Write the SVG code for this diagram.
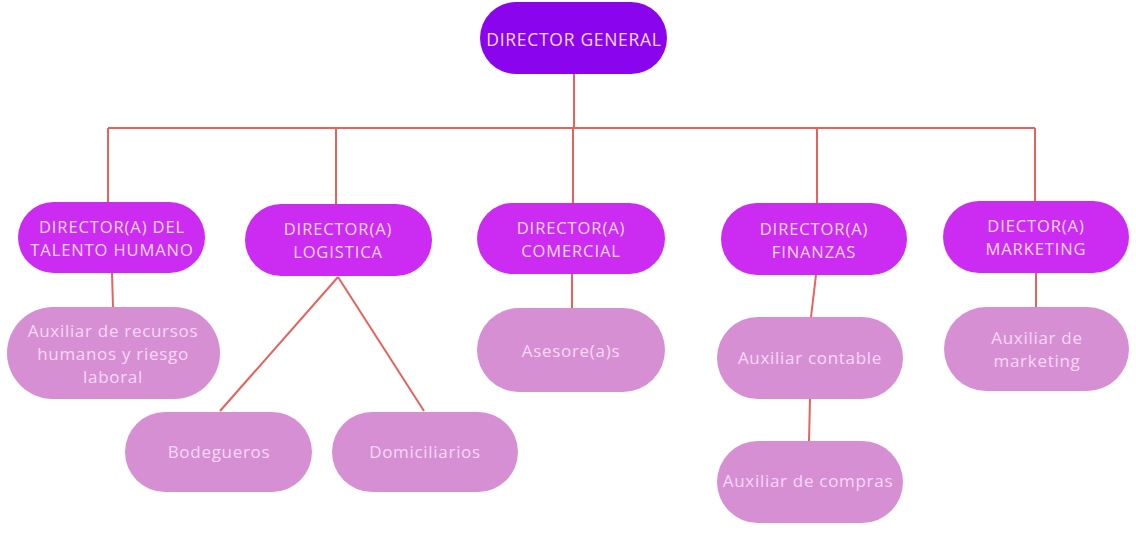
<svg xmlns="http://www.w3.org/2000/svg" width="1136" height="557" viewBox="0 0 1136 557">
<style>
.l1{fill:#8a05ee}
.l2{fill:#cc2cf2}
.l3{fill:#d78fd4}
text{font-family:"Open Sans","Liberation Sans",sans-serif;fill:#f8d8f6;text-anchor:middle;dominant-baseline:central}
.t1{font-size:17.5px;letter-spacing:0.7px}
.t2{font-size:16.5px;letter-spacing:0.9px}
.t3{font-size:17px;letter-spacing:0.7px}
#connectors line{stroke:#e8625c;stroke-width:2;fill:none}
</style>
<rect width="1136" height="557" fill="#ffffff"/>
<g id="connectors">
<line x1="574" y1="74" x2="574" y2="128"/>
<line x1="108" y1="128" x2="1035" y2="128"/>
<line x1="108" y1="128" x2="108" y2="202"/>
<line x1="336" y1="128" x2="336" y2="204"/>
<line x1="573" y1="128" x2="573" y2="203"/>
<line x1="817" y1="128" x2="817" y2="203"/>
<line x1="1035" y1="128" x2="1035" y2="201"/>
<line x1="112" y1="273" x2="113" y2="307"/>
<line x1="338" y1="277" x2="220" y2="411"/>
<line x1="338" y1="277" x2="424" y2="411"/>
<line x1="572" y1="274" x2="572" y2="308"/>
<line x1="816" y1="275" x2="811" y2="317"/>
<line x1="810" y1="399" x2="809" y2="441"/>
<line x1="1036" y1="273" x2="1036" y2="307"/>
</g>
<g id="director-general">
<rect class="l1" x="480" y="2" width="187" height="72" rx="36"/>
<text class="t1" x="574" y="39">DIRECTOR GENERAL</text>
</g>
<g id="talento-humano">
<rect class="l2" x="18" y="202" width="187" height="71" rx="35.5"/>
<text class="t2" x="112" y="226">DIRECTOR(A) DEL</text>
<text class="t2" x="112" y="249">TALENTO HUMANO</text>
</g>
<g id="logistica">
<rect class="l2" x="245" y="204" width="187" height="72" rx="36"/>
<text class="t2" x="338" y="228">DIRECTOR(A)</text>
<text class="t2" x="338" y="251">LOGISTICA</text>
</g>
<g id="comercial">
<rect class="l2" x="477" y="203" width="188" height="71" rx="35.5"/>
<text class="t2" x="571" y="227">DIRECTOR(A)</text>
<text class="t2" x="571" y="250">COMERCIAL</text>
</g>
<g id="finanzas">
<rect class="l2" x="721" y="203" width="186" height="72" rx="36"/>
<text class="t2" x="814" y="228">DIRECTOR(A)</text>
<text class="t2" x="814" y="251">FINANZAS</text>
</g>
<g id="marketing">
<rect class="l2" x="943" y="201" width="186" height="72" rx="36"/>
<text class="t2" x="1036" y="225">DIECTOR(A)</text>
<text class="t2" x="1036" y="248">MARKETING</text>
</g>
<g id="aux-recursos">
<rect class="l3" x="7" y="307" width="213" height="92" rx="46"/>
<text class="t3" x="113" y="330">Auxiliar de recursos</text>
<text class="t3" x="113" y="353">humanos y riesgo</text>
<text class="t3" x="113" y="376">laboral</text>
</g>
<g id="bodegueros">
<rect class="l3" x="125" y="412" width="187" height="80" rx="40"/>
<text class="t3" x="219" y="451">Bodegueros</text>
</g>
<g id="domiciliarios">
<rect class="l3" x="332" y="412" width="186" height="80" rx="40"/>
<text class="t3" x="425" y="451">Domiciliarios</text>
</g>
<g id="asesores">
<rect class="l3" x="477" y="308" width="188" height="84" rx="42"/>
<text class="t3" x="571" y="350">Asesore(a)s</text>
</g>
<g id="aux-contable">
<rect class="l3" x="717" y="317" width="186" height="82" rx="41"/>
<text class="t3" x="810" y="357">Auxiliar contable</text>
</g>
<g id="aux-compras">
<rect class="l3" x="717" y="441" width="186" height="82" rx="41"/>
<text class="t3" x="808" y="480">Auxiliar de compras</text>
</g>
<g id="aux-marketing">
<rect class="l3" x="944" y="307" width="185" height="84" rx="42"/>
<text class="t3" x="1037" y="337">Auxiliar de</text>
<text class="t3" x="1037" y="360">marketing</text>
</g>
</svg>
